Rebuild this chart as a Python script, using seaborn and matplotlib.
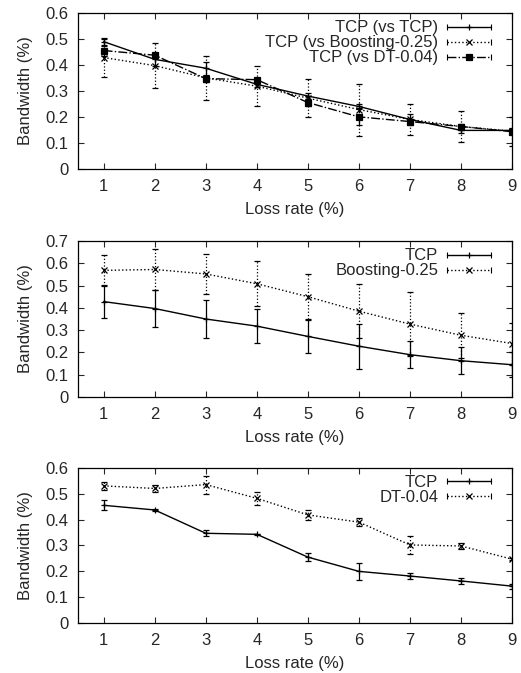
import matplotlib
matplotlib.use("Agg")
import matplotlib.pyplot as plt
import seaborn as sns
import pandas as pd
from matplotlib.lines import Line2D
from matplotlib.legend_handler import HandlerLine2D
from matplotlib.ticker import FuncFormatter

# 数据
loss = [1, 2, 3, 4, 5, 6, 7, 8, 9]

# 图1: TCP 与不同对手竞争
tcp_vs_tcp = [0.489, 0.421, 0.387, 0.325, 0.280, 0.240, 0.190, 0.148, 0.148]
tcp_vs_tcp_err = [0.015, 0.025, 0.025, 0.010, 0.010, 0.010, 0.020, 0.010, 0.010]
tcp_vs_boost = [0.428, 0.397, 0.350, 0.318, 0.272, 0.228, 0.190, 0.163, 0.145]
tcp_vs_boost_err = [0.073, 0.085, 0.085, 0.077, 0.073, 0.100, 0.060, 0.060, 0.055]
tcp_vs_dt = [0.455, 0.437, 0.347, 0.343, 0.255, 0.200, 0.182, 0.163, 0.143]
tcp_vs_dt_err = [0.020, 0.005, 0.012, 0.003, 0.015, 0.033, 0.010, 0.010, 0.010]

# 图2: TCP vs Boosting-0.25
boost = [0.568, 0.572, 0.552, 0.508, 0.450, 0.385, 0.327, 0.277, 0.240]
boost_err = [0.070, 0.092, 0.090, 0.100, 0.100, 0.120, 0.142, 0.102, 0.092]

# 图3: TCP vs DT-0.04
dt = [0.530, 0.520, 0.535, 0.482, 0.418, 0.390, 0.302, 0.298, 0.247]
dt_err = [0.015, 0.015, 0.035, 0.025, 0.020, 0.015, 0.035, 0.010, 0.005]

sns.set_style("ticks")
plt.rcParams['font.family'] = ['Liberation Sans', 'DejaVu Sans']
FS = 12
plt.rcParams['font.size'] = FS


class CapHandler(HandlerLine2D):
    # gnuplot 风格图例：两端带短竖线
    def create_artists(self, legend, orig_handle, xdescent, ydescent,
                       width, height, fontsize, trans):
        arts = super().create_artists(legend, orig_handle, xdescent, ydescent,
                                      width, height, fontsize, trans)
        y = height / 2 - ydescent
        caps = Line2D([-xdescent, width - xdescent], [y, y], linestyle='none',
                      marker='|', markersize=5, color='black', markeredgewidth=0.8)
        caps.set_transform(trans)
        return arts + [caps]


def draw(ax, series, ylim, yticks):
    handles = []
    for name, vals, errs, ls, mk, ms in series:
        df = pd.DataFrame({'loss': loss, 'bw': vals})
        sns.lineplot(data=df, x='loss', y='bw', ax=ax, color='black',
                     linestyle=ls, linewidth=1.0, marker=mk, markersize=ms,
                     markeredgewidth=0.9, markerfacecolor='black',
                     markeredgecolor='black')
        eb = ax.errorbar(loss, vals, yerr=errs, fmt='none', ecolor='black',
                         elinewidth=0.9, capsize=2.5, capthick=0.9)
        for c in eb[2]:
            c.set_linestyle(ls)
        handles.append(Line2D([], [], color='black', linestyle=ls, linewidth=1.0,
                              marker=mk, markersize=ms, markeredgewidth=0.9,
                              markerfacecolor='black', label=name))
    ax.set_xlim(0.5, 9)
    ax.set_ylim(*ylim)
    ax.set_xticks(loss)
    ax.set_yticks(yticks)
    ax.yaxis.set_major_formatter(FuncFormatter(lambda v, p: f"{v:g}"))
    ax.tick_params(direction='in', top=True, right=True, length=4, width=0.8,
                   labelsize=FS, pad=7)
    for s in ax.spines.values():
        s.set_visible(True)
        s.set_linewidth(0.9)
        s.set_color('black')
    ax.set_xlabel('Loss rate (%)', fontsize=FS, labelpad=6)
    ax.set_ylabel('Bandwidth (%)', fontsize=FS, labelpad=9)
    ax.legend(handles=handles, loc='upper right', bbox_to_anchor=(0.97, 1.005),
              frameon=False, markerfirst=False, handlelength=2.6,
              handletextpad=0.55, labelspacing=0.0, borderpad=0.0,
              fontsize=FS, handler_map={Line2D: CapHandler()})


fig = plt.figure(figsize=(5.21, 6.73), dpi=100)
ax1 = fig.add_axes([0.150, 0.749, 0.833, 0.232])
ax2 = fig.add_axes([0.150, 0.410, 0.833, 0.232])
ax3 = fig.add_axes([0.150, 0.074, 0.833, 0.231])

draw(ax1, [
    ('TCP (vs TCP)', tcp_vs_tcp, tcp_vs_tcp_err, '-', '+', 5),
    ('TCP (vs Boosting-0.25)', tcp_vs_boost, tcp_vs_boost_err, ':', 'x', 4),
    ('TCP (vs DT-0.04)', tcp_vs_dt, tcp_vs_dt_err, '-.', 's', 4),
], (0, 0.6), [0, 0.1, 0.2, 0.3, 0.4, 0.5, 0.6])

draw(ax2, [
    ('TCP', tcp_vs_boost, tcp_vs_boost_err, '-', '+', 5),
    ('Boosting-0.25', boost, boost_err, ':', 'x', 4),
], (0, 0.7), [0, 0.1, 0.2, 0.3, 0.4, 0.5, 0.6, 0.7])

draw(ax3, [
    ('TCP', tcp_vs_dt, tcp_vs_dt_err, '-', '+', 5),
    ('DT-0.04', dt, dt_err, ':', 'x', 4),
], (0, 0.6), [0, 0.1, 0.2, 0.3, 0.4, 0.5, 0.6])

fig.savefig('out.png', dpi=100)
